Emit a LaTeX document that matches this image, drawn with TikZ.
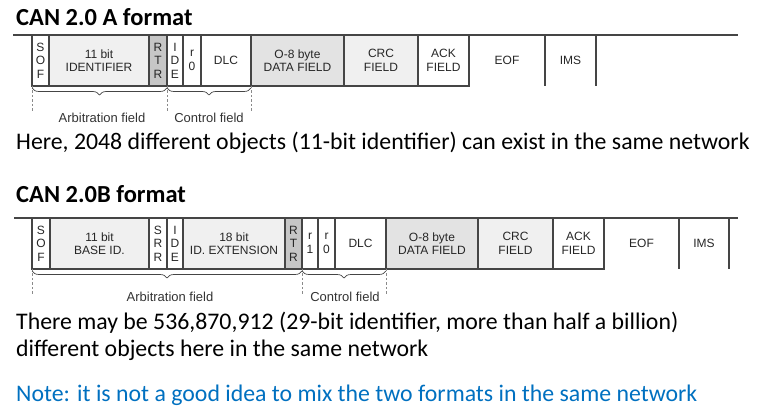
\documentclass[tikz,border=0pt]{standalone}
\usepackage{fontspec}
\usetikzlibrary{positioning, decorations.pathreplacing}
\newfontfamily\bodyfont{Carlito}
\newfontfamily\cellfont{Liberation Sans}
\definecolor{framegray}{HTML}{454545}
\definecolor{lightfill}{HTML}{F0F0F0}
\definecolor{midfill}{HTML}{E3E3E3}
\definecolor{darkfill}{HTML}{C6C6C6}
\definecolor{guidegray}{HTML}{8A8A8A}
\definecolor{noteblue}{HTML}{0070C0}

\begin{document}
\begin{tikzpicture}[x=1pt, y=-1pt,
    cell/.style={draw=framegray, line width=1.3pt, outer sep=0pt, inner sep=0pt,
      minimum height=51pt, align=center, text=black!85,
      font=\cellfont\fontsize{12}{13.5}\selectfont},
    open/.style={cell, draw=none},
    wire/.style={framegray, line width=1.3pt},
    guide/.style={guidegray, dashed, dash pattern=on 2.5pt off 2pt, line width=0.8pt},
    curly/.style={framegray, line width=0.7pt, decorate,
      decoration={brace, mirror, amplitude=7pt}},
    lbl/.style={text=black!80, font=\cellfont\fontsize{13}{15}\selectfont},
    title/.style={anchor=base west, inner sep=0pt, font=\bodyfont\bfseries\fontsize{24.5}{28}\selectfont},
    body/.style={anchor=base west, inner sep=0pt, font=\bodyfont\fontsize{23.8}{27}\selectfont}]
    \useasboundingbox (0,0) rectangle (764,414);

    % CAN 2.0 A
    \node[title] (titleA) at (16,26) {CAN 2.0 A format};
    \draw[wire] (13,35) -- (738,35);
    \node[cell, minimum width=17pt, anchor=north west] (sofA) at (32,35) {S\\O\\F};
    \node[cell, fill=lightfill, minimum width=100pt, right=0pt of sofA] (idA) {11 bit\\IDENTIFIER};
    \node[cell, fill=darkfill, minimum width=18pt, right=0pt of idA] (rtrA) {R\\T\\R};
    \node[cell, minimum width=16pt, right=0pt of rtrA] (ideA) {I\\D\\E};
    \node[cell, minimum width=18pt, right=0pt of ideA] (rzA) {r\\0};
    \node[cell, minimum width=50pt, right=0pt of rzA] (dlcA) {DLC};
    \node[cell, fill=midfill, minimum width=93pt, right=0pt of dlcA] (dataA) {O-8 byte\\DATA FIELD};
    \node[cell, fill=lightfill, minimum width=74pt, right=0pt of dataA] (crcA) {CRC\\FIELD};
    \node[cell, minimum width=51pt, right=0pt of crcA] (ackA) {ACK\\FIELD};
    \node[open, minimum width=76pt, right=0pt of ackA] (eofA) {EOF};
    \node[open, minimum width=51pt, right=0pt of eofA] (imsA) {IMS};
    \draw[wire] (eofA.north east) -- (eofA.south east);
    \draw[wire] (imsA.north east) -- (imsA.south east);

    % Campos
    \draw[guide] (sofA.south west) -- ++(0,26);
    \draw[guide] (rtrA.south east) -- ++(0,26);
    \draw[guide] (dlcA.south east) -- ++(0,26);
    \draw[curly] ([yshift=-2pt]sofA.south west) -- ([yshift=-2pt]rtrA.south east);
    \draw[curly] ([yshift=-2pt]rtrA.south east) -- ([yshift=-2pt]dlcA.south east);
    \node[lbl] (arbA) at (102,118) {Arbitration field};
    \node[lbl] (ctlA) at (209,118) {Control field};

    \node[body] (textA) at (16,150) {Here, 2048 different objects (11-bit identifier) can exist in the same network};

    % CAN 2.0 B
    \node[title] (titleB) at (16,203) {CAN 2.0B format};
    \draw[wire] (14,218) -- (738,218);
    \node[cell, minimum width=18pt, anchor=north west] (sofB) at (32,218) {S\\O\\F};
    \node[cell, fill=lightfill, minimum width=99pt, right=0pt of sofB] (baseB) {11 bit\\BASE ID.};
    \node[cell, minimum width=18pt, right=0pt of baseB] (srrB) {S\\R\\R};
    \node[cell, minimum width=16pt, right=0pt of srrB] (ideB) {I\\D\\E};
    \node[cell, fill=lightfill, minimum width=102pt, right=0pt of ideB] (extB) {18 bit\\ID. EXTENSION};
    \node[cell, fill=darkfill, minimum width=17pt, right=0pt of extB] (rtrB) {R\\T\\R};
    \node[cell, minimum width=16pt, right=0pt of rtrB] (roB) {r\\1};
    \node[cell, minimum width=17pt, right=0pt of roB] (rzB) {r\\0};
    \node[cell, minimum width=51pt, right=0pt of rzB] (dlcB) {DLC};
    \node[cell, fill=midfill, minimum width=92pt, right=0pt of dlcB] (dataB) {O-8 byte\\DATA FIELD};
    \node[cell, fill=lightfill, minimum width=75pt, right=0pt of dataB] (crcB) {CRC\\FIELD};
    \node[cell, minimum width=51pt, right=0pt of crcB] (ackB) {ACK\\FIELD};
    \node[open, minimum width=75pt, right=0pt of ackB] (eofB) {EOF};
    \node[open, minimum width=50pt, right=0pt of eofB] (imsB) {IMS};
    \draw[wire] (eofB.north east) -- (eofB.south east);
    \draw[wire] (imsB.north east) -- (imsB.south east);

    % Campos
    \draw[guide] (sofB.south west) -- ++(0,26);
    \draw[guide] (rtrB.south east) -- ++(0,26);
    \draw[guide] (dlcB.south east) -- ++(0,26);
    \draw[curly] ([yshift=-2pt]sofB.south west) -- ([yshift=-2pt]rtrB.south east);
    \draw[curly] ([yshift=-2pt]rtrB.south east) -- ([yshift=-2pt]dlcB.south east);
    \node[lbl] (arbB) at (170,297) {Arbitration field};
    \node[lbl] (ctlB) at (345,297) {Control field};

    \node[body] (textB) at (16,330) {There may be 536,870,912 (29-bit identifier, more than half a billion)};
    \node[body] (textC) at (16,357) {different objects here in the same network};
    \node[body, text=noteblue] (noteB) at (16,402) {Note: it is not a good idea to mix the two formats in the same network};
\end{tikzpicture}
\end{document}
